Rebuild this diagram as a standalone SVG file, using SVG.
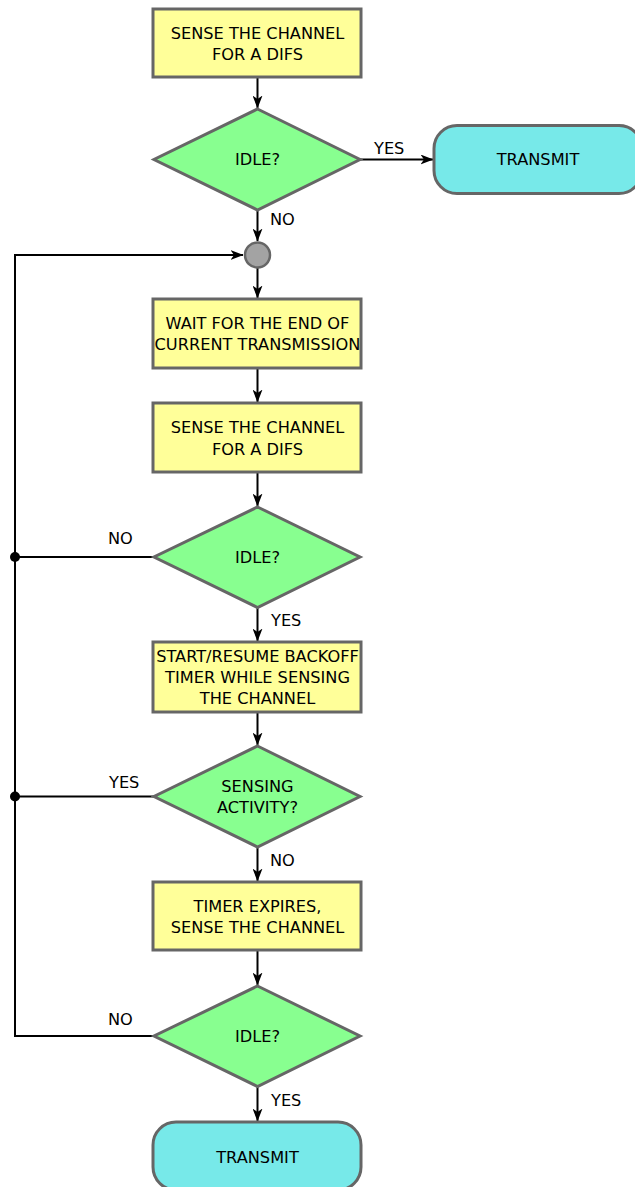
<svg xmlns="http://www.w3.org/2000/svg" width="635" height="1187" viewBox="0 0 635 1187">
  <style>
    .proc { fill: #ffff99; stroke: #666666; stroke-width: 3; }
    .dec { fill: #88ff90; stroke: #666666; stroke-width: 3; }
    .term { fill: #77e9e9; stroke: #666666; stroke-width: 3; }
    .junc { fill: #a3a3a3; stroke: #666666; stroke-width: 2.5; }
    .t { font-family: "DejaVu Sans", sans-serif; font-size: 16.2px; fill: #000000; text-anchor: middle; }
    .lbl { font-family: "DejaVu Sans", sans-serif; font-size: 16.2px; fill: #000000; }
    .edge { fill: none; stroke: #000000; stroke-width: 2; }
    .arr { marker-end: url(#head); }
  </style>
  <defs>
    <marker id="head" viewBox="0 0 13 10" refX="12.5" refY="5" markerWidth="13" markerHeight="10" markerUnits="userSpaceOnUse" orient="auto">
      <path d="M0,0 L13,5 L0,10 L3.5,5 Z" fill="#000000"/>
    </marker>
  </defs>

  <!-- connectors -->
  <g id="connectors">
    <path class="edge arr" d="M257.5,77 V108"/>
    <path class="edge arr" d="M360,159.5 H433"/>
    <path class="edge arr" d="M257.5,210 V241"/>
    <path class="edge arr" d="M257.5,268 V298"/>
    <path class="edge arr" d="M257.5,368 V402"/>
    <path class="edge arr" d="M257.5,472 V506"/>
    <path class="edge arr" d="M257.5,608 V641"/>
    <path class="edge arr" d="M257.5,712 V745"/>
    <path class="edge arr" d="M257.5,847 V881"/>
    <path class="edge arr" d="M257.5,950 V985"/>
    <path class="edge arr" d="M257.5,1086.5 V1121"/>
    <path class="edge" d="M154,557 H15"/>
    <path class="edge" d="M154,796.5 H15"/>
    <path class="edge arr" d="M154,1036 H15 V255 H243"/>
    <circle cx="15" cy="557" r="5" fill="#000000"/>
    <circle cx="15" cy="796.5" r="5" fill="#000000"/>
    <text class="lbl" x="374" y="154">YES</text>
    <text class="lbl" x="270" y="225">NO</text>
    <text class="lbl" x="108" y="544">NO</text>
    <text class="lbl" x="271" y="626">YES</text>
    <text class="lbl" x="109" y="788">YES</text>
    <text class="lbl" x="270" y="866">NO</text>
    <text class="lbl" x="108" y="1025">NO</text>
    <text class="lbl" x="271" y="1106">YES</text>
  </g>

  <g id="sense1">
    <rect class="proc" x="153" y="9" width="208" height="68"/>
    <text class="t" x="257.5" y="39">SENSE THE CHANNEL</text>
    <text class="t" x="257.5" y="60">FOR A DIFS</text>
  </g>

  <g id="idle1">
    <polygon class="dec" points="257.5,109 360,159.5 257.5,210 154,159.5"/>
    <text class="t" x="257.5" y="165">IDLE?</text>
  </g>

  <g id="transmit1">
    <rect class="term" x="434" y="125.5" width="208" height="68" rx="23" ry="23"/>
    <text class="t" x="538" y="165">TRANSMIT</text>
  </g>

  <g id="junction">
    <circle class="junc" cx="257.5" cy="255" r="12.5"/>
  </g>

  <g id="wait">
    <rect class="proc" x="153" y="299" width="208" height="69"/>
    <text class="t" x="257.5" y="329">WAIT FOR THE END OF</text>
    <text class="t" x="257.5" y="350">CURRENT TRANSMISSION</text>
  </g>

  <g id="sense2">
    <rect class="proc" x="153" y="403" width="208" height="69"/>
    <text class="t" x="257.5" y="433">SENSE THE CHANNEL</text>
    <text class="t" x="257.5" y="455">FOR A DIFS</text>
  </g>

  <g id="idle2">
    <polygon class="dec" points="257.5,507 360,557 257.5,607.5 154,557"/>
    <text class="t" x="257.5" y="563">IDLE?</text>
  </g>

  <g id="backoff">
    <rect class="proc" x="153" y="642" width="208" height="70"/>
    <text class="t" x="257.5" y="662">START/RESUME BACKOFF</text>
    <text class="t" x="257.5" y="683">TIMER WHILE SENSING</text>
    <text class="t" x="257.5" y="704">THE CHANNEL</text>
  </g>

  <g id="activity">
    <polygon class="dec" points="257.5,746 360,796.5 257.5,847 154,796.5"/>
    <text class="t" x="257.5" y="792">SENSING</text>
    <text class="t" x="257.5" y="813">ACTIVITY?</text>
  </g>

  <g id="expire">
    <rect class="proc" x="153" y="882" width="208" height="68"/>
    <text class="t" x="257.5" y="912">TIMER EXPIRES,</text>
    <text class="t" x="257.5" y="933">SENSE THE CHANNEL</text>
  </g>

  <g id="idle3">
    <polygon class="dec" points="257.5,986 360,1036 257.5,1086.5 154,1036"/>
    <text class="t" x="257.5" y="1042">IDLE?</text>
  </g>

  <g id="transmit2">
    <rect class="term" x="153" y="1122" width="208" height="68" rx="23" ry="23"/>
    <text class="t" x="257.5" y="1163">TRANSMIT</text>
  </g>
</svg>
